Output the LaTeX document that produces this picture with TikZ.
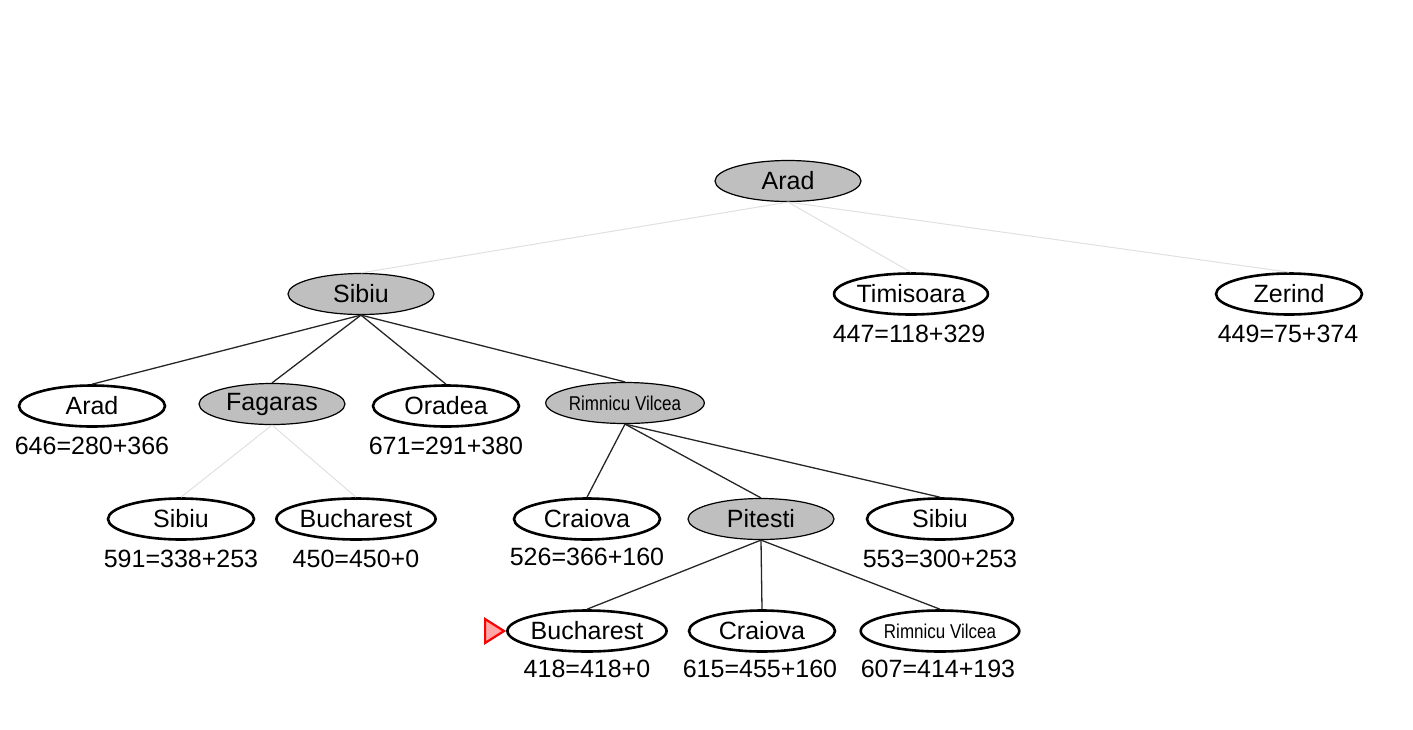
\documentclass[tikz,border=0pt]{standalone}
\usepackage{fontspec}
\setmainfont{Liberation Sans}
\usetikzlibrary{shapes.geometric}
\begin{document}
\begin{tikzpicture}[x=1pt,y=-1pt,
  nd/.style={ellipse,minimum width=146pt,minimum height=41pt,inner sep=0pt,font=\fontsize{25}{25}\selectfont},
  open/.style={nd,draw=black,line width=2.6pt,fill=white},
  closed/.style={nd,draw=black,line width=1.2pt,fill=gray!50},
  lab/.style={font=\fontsize{25}{25}\selectfont},
  sm/.style={font=\fontsize{20}{20}\selectfont},
  e/.style={line width=1.3pt,black!85},
  le/.style={line width=1pt,black!12}]
\useasboundingbox (0,0) rectangle (1413,729);
\node[closed] (a) at (788,181) {Arad};
\node[closed] (s) at (361,294) {Sibiu};
\node[open] (t) at (911,294) {Timisoara};
\node[open] (z) at (1289,294) {Zerind};
\node[lab] at (909,334) {447=118+329};
\node[lab] at (1288,334) {449=75+374};
\node[open] (a2) at (92,406) {Arad};
\node[closed] (f) at (272,404) {Fagaras};
\node[open] (o) at (446,406) {Oradea};
\node[closed,sm] (r) at (625,403) {\scalebox{0.85}[1]{Rimnicu Vilcea}};
\node[lab] at (92,446) {646=280+366};
\node[lab] at (446,446) {671=291+380};
\node[open] (s3) at (181,519) {Sibiu};
\node[open] (b3) at (356,519) {Bucharest};
\node[open] (c3) at (587,519) {Craiova};
\node[closed] (p) at (761,519) {Pitesti};
\node[open] (s4) at (940,519) {Sibiu};
\node[lab] at (181,559) {591=338+253};
\node[lab] at (356,559) {450=450+0};
\node[lab] at (587,557) {526=366+160};
\node[lab] at (940,559) {553=300+253};
\node[open] (b4) at (587,631) {Bucharest};
\node[open] (c4) at (762,631) {Craiova};
\node[open,sm] (r4) at (940,631) {\scalebox{0.85}[1]{Rimnicu Vilcea}};
\node[lab] at (587,669) {418=418+0};
\node[lab] at (760,669) {615=455+160};
\node[lab] at (938,669) {607=414+193};
\draw[le] (a.south) -- (s.north);
\draw[le] (a.south) -- (t.north);
\draw[le] (a.south) -- (z.north);
\draw[e] (s.south) -- (a2.north);
\draw[e] (s.south) -- (f.north);
\draw[e] (s.south) -- (o.north);
\draw[e] (s.south) -- (r.north);
\draw[le] (f.south) -- (s3.north);
\draw[le] (f.south) -- (b3.north);
\draw[e] (r.south) -- (c3.north);
\draw[e] (r.south) -- (p.north);
\draw[e] (r.south) -- (s4.north);
\draw[e] (p.south) -- (b4.north);
\draw[e] (p.south) -- (c4.north);
\draw[e] (p.south) -- (r4.north);
\coordinate (m) at (b4.west);
\draw[red,line width=2.2pt,fill=red!35] ([xshift=-21pt,yshift=-12pt]m) -- ([xshift=-2pt]m) -- ([xshift=-21pt,yshift=12pt]m) -- cycle;
\end{tikzpicture}
\end{document}
